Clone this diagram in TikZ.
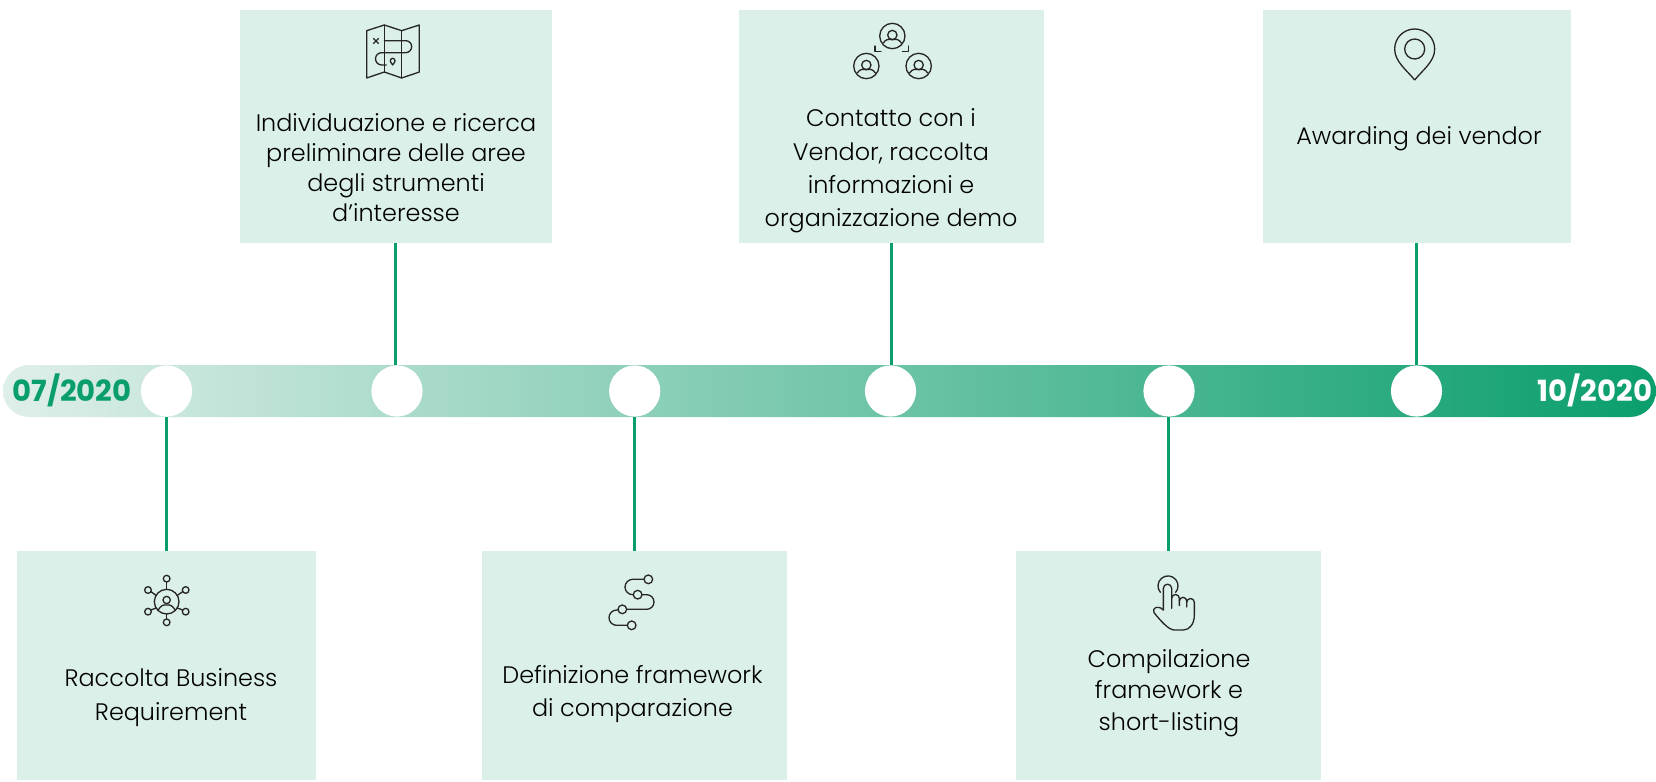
\documentclass[tikz,border=0pt]{standalone}
\usepackage{fontspec}
\setmainfont{Poppins}
\newfontfamily\lightfont{Poppins Light}
\definecolor{boxgreen}{HTML}{DBF0E8}
\definecolor{linegreen}{HTML}{0A9E6C}
\definecolor{barstart}{HTML}{DFEFE9}
\definecolor{iconink}{HTML}{262626}
\tikzset{
    boxnode/.style={fill=boxgreen, inner sep=0pt, minimum height=#1},
    boxtext/.style={align=center, text=black, inner sep=0pt, font=\lightfont\fontsize{13.6pt}{#1pt}\selectfont},
    datetext/.style={inner sep=0pt, font=\fontsize{16.6pt}{20pt}\selectfont\bfseries},
    dotnode/.style={circle, fill=white, inner sep=0pt, minimum size=1.024cm},
    stem/.style={draw=linegreen, line width=1.2pt},
    icon/.style={x=0.006667cm, y=-0.006667cm, draw=iconink, line width=0.75pt, line join=round, line cap=round}
}
\begin{document}
\begin{tikzpicture}[x=0.02cm, y=-0.02cm]
    \useasboundingbox (0, 0) rectangle (1656, 781);
    % boxes
    \node (boxA) at (166.5, 665.5) [boxnode=4.58cm, minimum width=5.98cm] {};
    \node (boxB) at (396, 126.5) [boxnode=4.66cm, minimum width=6.24cm] {};
    \node (boxC) at (634.5, 665.5) [boxnode=4.58cm, minimum width=6.10cm] {};
    \node (boxD) at (891.5, 126.5) [boxnode=4.66cm, minimum width=6.10cm] {};
    \node (boxE) at (1168.5, 665.5) [boxnode=4.58cm, minimum width=6.10cm] {};
    \node (boxF) at (1417, 126.5) [boxnode=4.66cm, minimum width=6.16cm] {};
    % timeline
    \shade[left color=barstart, right color=linegreen, rounded corners=0.52cm] (3, 365) rectangle (1656, 417);
    \node (dotA) at (166.5, 391) [dotnode] {};
    \node (dotB) at (397, 391) [dotnode] {};
    \node (dotC) at (634.7, 391) [dotnode] {};
    \node (dotD) at (890.5, 391) [dotnode] {};
    \node (dotE) at (1169, 391) [dotnode] {};
    \node (dotF) at (1416.5, 391) [dotnode] {};
    \node (dateL) at (72, 390) [datetext, text=linegreen] {07/2020};
    \node (dateR) at (1595, 390) [datetext, text=white] {10/2020};
    % connectors
    \draw[stem] (boxA.north) -- (boxA.north |- dotA.south);
    \draw[stem] ([xshift=-0.01cm]boxB.south) -- ([xshift=-0.01cm]boxB.south |- dotB.north);
    \draw[stem] (boxC.north) -- (boxC.north |- dotC.south);
    \draw[stem] (boxD.south) -- (boxD.south |- dotD.north);
    \draw[stem] (boxE.north) -- (boxE.north |- dotE.south);
    \draw[stem] ([xshift=-0.01cm]boxF.south) -- ([xshift=-0.01cm]boxF.south |- dotF.north);
    % labels
    \node (textA) at (171, 697.5) [boxtext=19.3] {Raccolta Business\\Requirement};
    \node (textB) at (396, 167.5) [boxtext=17] {Individuazione e ricerca\\preliminare delle aree\\degli strumenti\\d’interesse};
    \node (textC) at (632.5, 694) [boxtext=19] {Definizione framework\\di comparazione};
    \node (textD) at (891, 171) [boxtext=19] {Contatto con i\\Vendor, raccolta\\informazioni e\\organizzazione demo};
    \node (textE) at (1169, 693) [boxtext=18] {Compilazione\\framework e\\short-listing};
    \node (textF) at (1419, 139) [boxtext=19] {Awarding dei vendor};
    % map icon
    \begin{scope}[shift={(340, 10)}, icon]
        \draw (80, 62) -- (133, 45) -- (185, 62) -- (238, 45) -- (238, 186) -- (185, 204) -- (133, 186) -- (80, 204) -- cycle;
        \draw (133, 45) -- (133, 186);
        \draw (185, 62) -- (185, 204);
        \draw (101, 86) -- (115, 100) (115, 86) -- (101, 100);
        \draw (133, 92) -- (197, 92) arc (270:450:18) -- (125, 128) arc (270:90:18.5) -- (139, 165);
        \draw (158, 165) .. controls (152, 158) and (151, 154) .. (151, 152) arc (180:360:7) .. controls (165, 154) and (164, 158) .. (158, 165);
    \end{scope}
    % people icon
    \begin{scope}[shift={(840, 10)}, icon]
        \foreach \px/\py in {157/78, 79/168, 236/168} {
            \draw (\px, \py) circle (38);
            \draw (\px, \py - 3) circle (14);
            \draw (\px - 27, \py + 21) .. controls (\px - 20, \py + 9) and (\px - 10, \py + 9) .. (\px, \py + 11) .. controls (\px + 10, \py + 9) and (\px + 20, \py + 9) .. (\px + 27, \py + 21);
        }
        \draw (105, 108) -- (105, 125) -- (123, 125);
        \draw (205, 108) -- (205, 125) -- (187, 125);
    \end{scope}
    % pin icon
    \begin{scope}[shift={(1370, 20)}, icon]
        \draw (134, 180) .. controls (110, 150) and (74, 125) .. (74, 87) arc (180:360:60) .. controls (194, 125) and (158, 150) .. (134, 180);
        \draw (134, 87) circle (30);
    \end{scope}
    % network icon
    \begin{scope}[shift={(130, 565)}, icon]
        \draw (110, 110) circle (37);
        \draw (110, 105) circle (11);
        \draw (84, 136) .. controls (92, 122) and (100, 118) .. (110, 120) .. controls (120, 118) and (128, 122) .. (136, 136);
        \foreach \cx/\cy/\sx/\sy/\ex/\ey in {110/41/110/51/110/73, 167/75/158/80/142/91, 167/140/158/135/142/129, 110/172/110/162/110/147, 54/140/63/135/78/129, 54/75/63/80/78/91} {
            \draw (\cx, \cy) circle (10);
            \draw (\sx, \sy) -- (\ex, \ey);
        }
    \end{scope}
    % flow icon
    \begin{scope}[shift={(595, 565)}, icon]
        \foreach \px/\py in {160/43, 128/89, 82/133, 110/181} {
            \draw (\px, \py) circle (13);
        }
        \draw (147, 43) -- (113, 43) arc (270:90:23) -- (115, 89);
        \draw (141, 89) -- (155, 89) arc (-90:90:22) -- (95, 133);
        \draw (69, 135) -- (65, 135) arc (270:90:23) -- (97, 181);
    \end{scope}
    % hand icon
    \begin{scope}[shift={(1135, 565)}, icon]
        \draw (76, 82) arc (140:400:30);
        \draw (85, 135) -- (85, 70) arc (180:360:12.5) -- (110, 130);
        \draw (110, 100) arc (180:360:11.5) -- (133, 122);
        \draw (133, 108) arc (180:360:11) -- (155, 126);
        \draw (155, 112) arc (180:360:11.5) -- (178, 150) .. controls (178, 175) and (165, 195) .. (145, 195) -- (118, 195) .. controls (100, 195) and (75, 165) .. (57, 143) .. controls (50, 130) and (68, 118) .. (85, 135);
    \end{scope}
\end{tikzpicture}
\end{document}
